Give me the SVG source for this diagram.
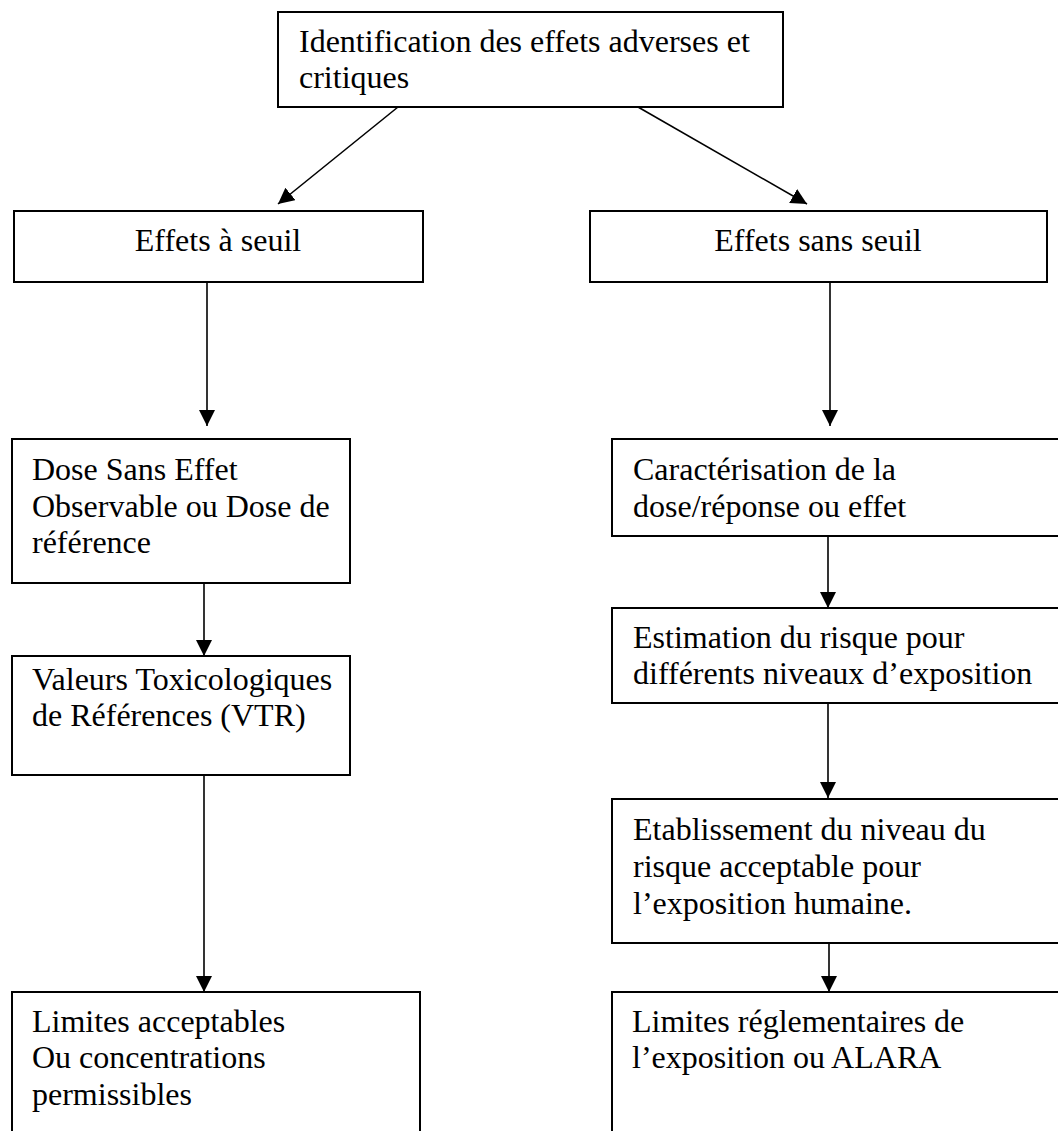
<svg xmlns="http://www.w3.org/2000/svg" width="1058" height="1131" viewBox="0 0 1058 1131">
<style>
.box{fill:#fff;stroke:#000;stroke-width:2}
.t{font-family:"Liberation Serif","Times New Roman",serif;font-size:32px;fill:#000}
.c{text-anchor:middle}
.ln{stroke:#000;stroke-width:1.6;fill:none;marker-end:url(#ah)}
</style>
<defs>
<marker id="ah" markerUnits="userSpaceOnUse" markerWidth="16" markerHeight="16" refX="16" refY="8" orient="auto">
<path d="M0,0 L16,8 L0,16 z" fill="#000"/>
</marker>
</defs>
<rect width="1058" height="1131" fill="#fff"/>
<g id="connectors">
<line class="ln" x1="398" y1="107" x2="278" y2="204"/>
<line class="ln" x1="638" y1="107" x2="807" y2="204"/>
<line class="ln" x1="207" y1="282" x2="207" y2="426"/>
<line class="ln" x1="830" y1="282" x2="830" y2="426"/>
<line class="ln" x1="204" y1="583" x2="204" y2="656"/>
<line class="ln" x1="204" y1="775" x2="204" y2="992"/>
<line class="ln" x1="828" y1="536" x2="828" y2="608"/>
<line class="ln" x1="828" y1="703" x2="828" y2="798"/>
<line class="ln" x1="829" y1="943" x2="829" y2="992"/>
</g>
<g id="n-identification">
<rect class="box" x="278" y="12" width="505" height="95"/>
<text class="t" x="299" y="52">Identification des effets adverses et</text>
<text class="t" x="299" y="88">critiques</text>
</g>
<g id="n-seuil">
<rect class="box" x="14" y="211" width="409" height="71"/>
<text class="t c" x="218" y="251">Effets à seuil</text>
</g>
<g id="n-sans-seuil">
<rect class="box" x="590" y="211" width="457" height="71"/>
<text class="t c" x="818" y="251">Effets sans seuil</text>
</g>
<g id="n-dose">
<rect class="box" x="12" y="439" width="338" height="144"/>
<text class="t" x="32" y="480">Dose Sans Effet</text>
<text class="t" x="32" y="517">Observable ou Dose de</text>
<text class="t" x="32" y="553">référence</text>
</g>
<g id="n-vtr">
<rect class="box" x="12" y="656" width="338" height="119"/>
<text class="t" x="32" y="690">Valeurs Toxicologiques</text>
<text class="t" x="32" y="726">de Références (VTR)</text>
</g>
<g id="n-limites-acc">
<rect class="box" x="12" y="992" width="408" height="150"/>
<text class="t" x="32" y="1032">Limites acceptables</text>
<text class="t" x="32" y="1068">Ou concentrations</text>
<text class="t" x="32" y="1105">permissibles</text>
</g>
<g id="n-caract">
<rect class="box" x="612" y="439" width="450" height="97"/>
<text class="t" x="633" y="480">Caractérisation de la</text>
<text class="t" x="633" y="517">dose/réponse ou effet</text>
</g>
<g id="n-estim">
<rect class="box" x="612" y="608" width="450" height="95"/>
<text class="t" x="633" y="648">Estimation du risque pour</text>
<text class="t" x="633" y="684">différents niveaux d’exposition</text>
</g>
<g id="n-etab">
<rect class="box" x="612" y="799" width="450" height="144"/>
<text class="t" x="633" y="840">Etablissement du niveau du</text>
<text class="t" x="633" y="877">risque acceptable pour</text>
<text class="t" x="633" y="914">l’exposition humaine.</text>
</g>
<g id="n-limites-regl">
<rect class="box" x="612" y="992" width="450" height="150"/>
<text class="t" x="632" y="1032">Limites réglementaires de</text>
<text class="t" x="632" y="1068">l’exposition ou ALARA</text>
</g>
</svg>
